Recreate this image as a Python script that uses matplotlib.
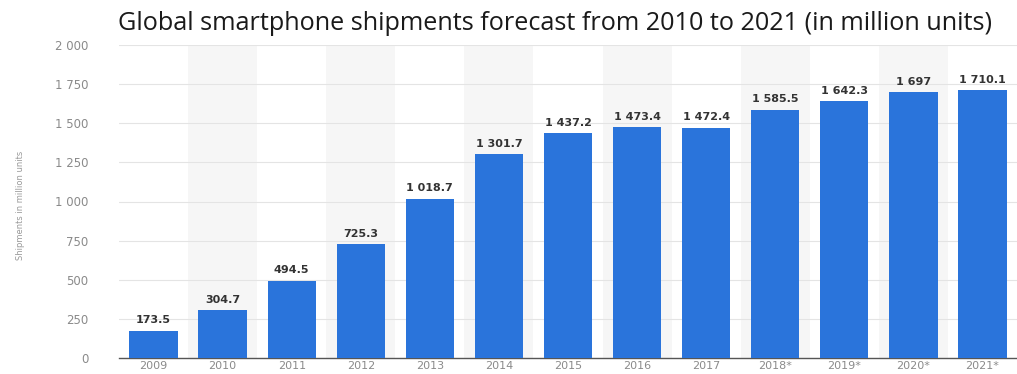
import matplotlib.pyplot as plt
import numpy as np

years = ['2009', '2010', '2011', '2012', '2013', '2014', '2015', '2016', '2017',
         '2018*', '2019*', '2020*', '2021*']
shipments = [173.5, 304.7, 494.5, 725.3, 1018.7, 1301.7, 1437.2, 1473.4, 1472.4,
             1585.5, 1642.3, 1697, 1710.1]
value_labels = ['173.5', '304.7', '494.5', '725.3', '1 018.7', '1 301.7', '1 437.2',
                '1 473.4', '1 472.4', '1 585.5', '1 642.3', '1 697', '1 710.1']
yticks = [0, 250, 500, 750, 1000, 1250, 1500, 1750, 2000]
ytick_labels = ['0', '250', '500', '750', '1 000', '1 250', '1 500', '1 750', '2 000']

fig = plt.figure(figsize=(10.17, 3.74), dpi=100)
ax = fig.add_axes([119/1017, 16/374, 1 - 119/1017, 313/374])

x = np.arange(len(years))

# alternating light column bands
for i in x[1::2]:
    ax.axvspan(i - 0.5, i + 0.5, color='#f6f6f6', zorder=0, lw=0)

ax.bar(x, shipments, width=0.7, color='#2a74db', zorder=3)
for xi, v, lab in zip(x, shipments, value_labels):
    ax.text(xi, v + 35, lab, ha='center', va='bottom', fontsize=8,
            fontweight='bold', color='#333333', zorder=4)

ax.set_ylim(0, 2000)
ax.set_xlim(-0.5, 12.5)
ax.set_yticks(yticks)
ax.set_yticklabels(ytick_labels)
ax.set_xticks(x)
ax.set_xticklabels(years)
ax.tick_params(axis='both', length=0, labelsize=8.5, colors='#8a8a8a')
ax.tick_params(axis='y', pad=22)
ax.tick_params(axis='x', pad=2, labelsize=8)
ax.yaxis.grid(True, color='#e4e4e4', lw=0.8, zorder=1)
for s in ['top', 'right', 'left']:
    ax.spines[s].set_visible(False)
ax.spines['bottom'].set_color('#555555')
ax.spines['bottom'].set_linewidth(1)
ax.set_axisbelow(True)

fig.text(0.02, 0.45, 'Shipments in million units', rotation=90, fontsize=6,
         color='#999999', ha='center', va='center')
fig.text(118/1017, 0.938, 'Global smartphone shipments forecast from 2010 to 2021 (in million units)',
         ha='left', va='center', fontsize=18.2, color='#1a1a1a', family='Open Sans')

fig.savefig('out.png', dpi=100)
